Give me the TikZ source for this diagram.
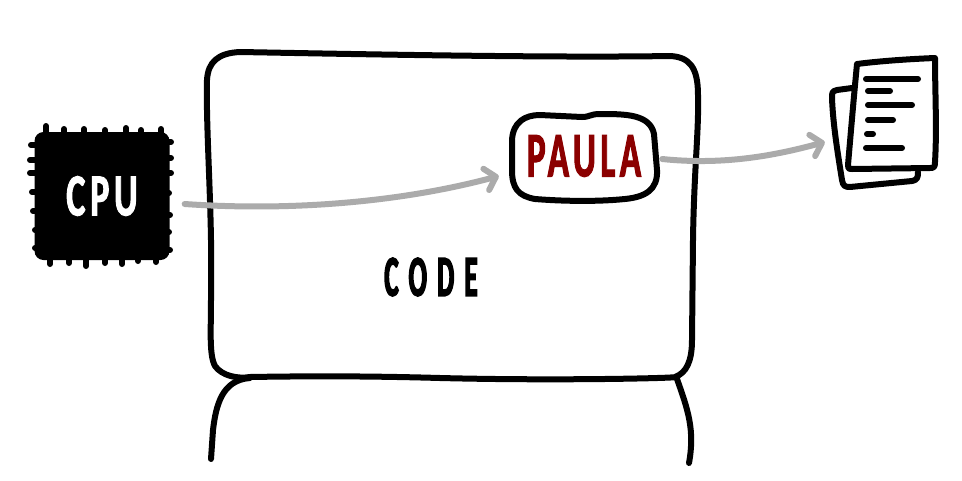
\documentclass[tikz,border=0pt]{standalone}
\usepackage{fontspec}
\usetikzlibrary{calc,arrows.meta}
\newfontfamily\handfont[FakeStretch=0.55,FakeBold=1.5,LetterSpace=7]{Carlito Bold}
\newfontfamily\chipfont[FakeStretch=0.6,FakeBold=1.5,LetterSpace=8]{Carlito Bold}
\newfontfamily\widefont[FakeStretch=0.46,FakeBold=2.5,LetterSpace=18]{Carlito Bold}
\definecolor{paulared}{HTML}{8B0000}
\definecolor{flowgray}{HTML}{ABABAB}
\tikzset{>={Straight Barb[round,length=10pt,width=22pt]}}
\tikzset{ink/.style={line width=6pt,line cap=round,line join=round},
  flow/.style={->,draw=flowgray,line width=6pt,line cap=round,line join=round},
  bigtext/.style={font=\handfont\fontsize{64}{64}\selectfont,inner sep=0pt}}

\begin{document}
\begin{tikzpicture}[x=1pt,y=-1pt]
\useasboundingbox (0,0) rectangle (962,480);

% the big box and its stem
\draw[ink] (250,377) .. controls (238,379) and (222,376) .. (215,366)
  .. controls (209,355) and (211,330) .. (211,300) -- (211,240)
  .. controls (210,180) and (206,120) .. (207,80)
  .. controls (208,62) and (218,53) .. (240,52)
  .. controls (350,54) and (550,58) .. (670,56)
  .. controls (690,57) and (698,68) .. (698,95)
  .. controls (699,130) and (694,170) .. (693,240) -- (692,340)
  .. controls (692,362) and (686,373) .. (675,377)
  .. controls (680,378) and (560,381) .. (440,378)
  .. controls (370,376) and (310,376) .. (250,377);
\draw[ink] (250,378) .. controls (222,380) and (216,405) .. (213,430) -- (211,459);
\draw[ink] (677,379) .. controls (688,410) and (695,430) .. (689,463);
\node[font=\widefont\fontsize{58}{58}\selectfont,inner sep=0pt] (code) at (431,277) {CODE};

% the chip
\node[fill=black,text=white,rounded corners=9pt,minimum width=135pt,minimum height=128pt,
  inner sep=0pt,font=\chipfont\fontsize{60}{60}\selectfont] (cpu) at (102,196) {CPU};
\foreach \x/\yy in {46/126,64/129,84/129,105/130,126/128,141/130,161/129}
  \draw[ink] (\x,\yy) -- (\x,140);
\foreach \x/\yy in {50/264,69/263,86/266,105/263,122/264,138/261,156/262}
  \draw[ink] (\x,\yy) -- (\x,250);
\foreach \y/\xx in {145/31,160/30,173/30,192/32,211/33,230/35,248/35}
  \draw[ink] (\xx,\y) -- (45,\y);
\foreach \y/\xx in {142/171,158/171,173/171,193/169,215/170,232/169,250/170}
  \draw[ink] (\xx,\y) -- (160,\y);

% the small box
\node[bigtext,text=paulared,minimum width=146pt,minimum height=86pt] (paula) at (584,156) {PAULA};
\draw[ink] (540,115) -- (582,117)
  .. controls (590,117) and (590,114) .. (600,114)
  .. controls (625,114) and (650,114) .. (654,134)
  -- (657,170)
  .. controls (658,190) and (645,197) .. (625,199)
  .. controls (595,202) and (560,201) .. (535,199)
  .. controls (518,196) and (512,188) .. (512,170)
  -- (512,140) .. controls (513,122) and (525,115) .. (540,115);

% the pages
\node[minimum width=104pt,minimum height=125pt,inner sep=0pt] (pages) at (884,123) {};
\draw[ink] (852,88) -- (837,90) .. controls (832,91) and (832,93) .. (832,98)
  .. controls (833,125) and (838,155) .. (842,180)
  .. controls (843,186) and (845,187) .. (850,187)
  -- (912,181) .. controls (917,180) and (918,178) .. (918,172);
\draw[ink,fill=white] (857,64) .. controls (880,61) and (910,59) .. (935,58)
  .. controls (935,90) and (937,130) .. (935,162)
  .. controls (935,167) and (934,168) .. (930,168)
  -- (852,169) .. controls (848,169) and (848,168) .. (848,165)
  .. controls (851,130) and (854,95) .. (857,64);
\foreach \xa/\xb/\y in {866/918/79,868/890/91,868/912/105,868/893/120,867/873/134,866/902/148}
  \draw[ink] (\xa,\y) -- (\xb,\y);

% the two arrows
\draw[flow] ([shift={(15,8)}]cpu.east) .. controls (300,212) and (410,200) .. ([shift={(-12,20)}]paula.west);
\draw[flow] ([shift={(5,3)}]paula.east) .. controls (720,165) and (770,157) .. ([shift={(-7,19)}]pages.west);
\end{tikzpicture}
\end{document}
